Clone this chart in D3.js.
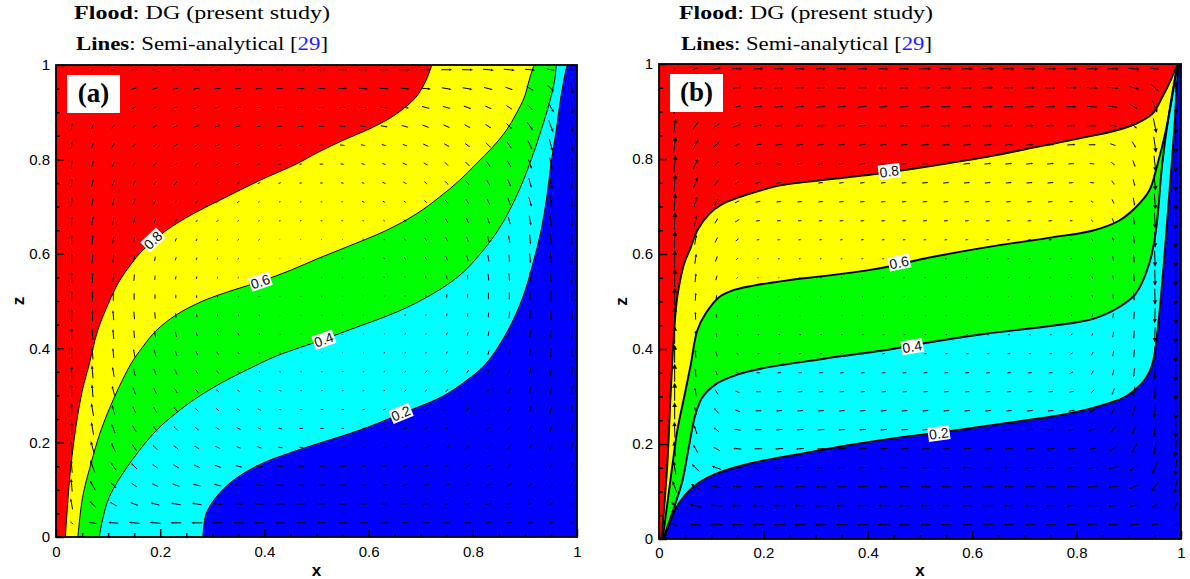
<!DOCTYPE html>
<html>
<head>
<meta charset="utf-8">
<script src="https://cdn.jsdelivr.net/npm/d3@7"></script>
<style>
  body { margin: 0; background: #fff; }
  text { font-family: "Liberation Sans", Arial, sans-serif; }
</style>
</head>
<body>
<svg id="chart" width="1190" height="579"></svg>
<script>
// ---- data ----
var tickVals = [0, 0.2, 0.4, 0.6, 0.8, 1];
var tickLabels = ["0", "0.2", "0.4", "0.6", "0.8", "1"];
var minorVals = [0.05,0.1,0.15,0.25,0.3,0.35,0.45,0.5,0.55,0.65,0.7,0.75,0.85,0.9,0.95];

var levels = [0.2, 0.4, 0.6, 0.8];
var levelNames = ["0.2", "0.4", "0.6", "0.8"];

// vector grid (x left->right, z top->bottom)
var gridX = [0.03,0.07,0.11,0.15,0.19,0.23,0.27,0.31,0.35,0.39,0.43,0.47,0.51,0.55,0.59,0.63,0.67,0.71,0.75,0.79,0.83,0.87,0.91,0.95,0.99];
var gridZ = [0.99,0.95,0.91,0.87,0.83,0.79,0.75,0.71,0.67,0.63,0.59,0.55,0.51,0.47,0.43,0.39,0.35,0.31,0.27,0.23,0.19,0.15,0.11,0.07,0.03];

// panel (a) contours [x, z]
var contourA02 = [[0.282,0],[0.288,0.049],[0.307,0.084],[0.339,0.119],[0.390,0.153],[0.448,0.178],[0.503,0.198],[0.582,0.226],[0.662,0.261],[0.742,0.298],[0.787,0.331],[0.825,0.367],[0.867,0.437],[0.896,0.508],[0.915,0.578],[0.931,0.649],[0.942,0.720],[0.950,0.790],[0.960,0.861],[0.969,0.932],[0.980,0.995],[0.982,1]];
var contourA04 = [[0.083,0],[0.088,0.03],[0.102,0.084],[0.141,0.155],[0.192,0.225],[0.230,0.262],[0.269,0.294],[0.320,0.328],[0.370,0.356],[0.422,0.383],[0.499,0.413],[0.576,0.444],[0.659,0.479],[0.723,0.515],[0.770,0.550],[0.797,0.578],[0.848,0.649],[0.883,0.720],[0.909,0.790],[0.931,0.861],[0.950,0.932],[0.958,0.975],[0.960,1]];
var contourA06 = [[0.042,0],[0.051,0.084],[0.067,0.155],[0.086,0.225],[0.112,0.296],[0.144,0.367],[0.166,0.402],[0.192,0.437],[0.230,0.470],[0.282,0.500],[0.340,0.523],[0.392,0.541],[0.450,0.565],[0.503,0.590],[0.557,0.614],[0.633,0.649],[0.691,0.684],[0.736,0.720],[0.774,0.755],[0.806,0.790],[0.838,0.826],[0.864,0.861],[0.883,0.896],[0.899,0.932],[0.908,0.967],[0.916,0.995],[0.918,1]];
var contourA08 = [[0.018,0],[0.029,0.155],[0.048,0.297],[0.064,0.367],[0.080,0.437],[0.106,0.508],[0.122,0.543],[0.144,0.578],[0.166,0.607],[0.211,0.649],[0.262,0.684],[0.326,0.720],[0.390,0.755],[0.461,0.790],[0.503,0.815],[0.550,0.840],[0.608,0.868],[0.653,0.896],[0.691,0.932],[0.710,0.967],[0.720,0.995],[0.722,1]];
var labelPosA = [[0.662,0.262],[0.514,0.418],[0.392,0.541],[0.186,0.629]];

// panel (b) contours [x, z]
var contourB02 = [[0.010,0],[0.034,0.068],[0.066,0.110],[0.104,0.135],[0.174,0.159],[0.270,0.179],[0.366,0.198],[0.462,0.214],[0.536,0.224],[0.658,0.243],[0.753,0.258],[0.817,0.272],[0.862,0.286],[0.894,0.300],[0.929,0.333],[0.945,0.368],[0.955,0.438],[0.967,0.579],[0.977,0.719],[0.987,0.860],[0.995,0.993],[0.997,1]];
var contourB04 = [[0.008,0],[0.029,0.067],[0.045,0.123],[0.057,0.193],[0.070,0.263],[0.083,0.298],[0.109,0.326],[0.150,0.346],[0.192,0.358],[0.319,0.380],[0.447,0.400],[0.502,0.411],[0.626,0.432],[0.753,0.449],[0.830,0.463],[0.881,0.488],[0.913,0.516],[0.939,0.579],[0.952,0.649],[0.964,0.789],[0.977,0.895],[0.993,0.993],[0.996,1]];
var contourB06 = [[0.007,0],[0.026,0.158],[0.035,0.228],[0.048,0.298],[0.061,0.368],[0.073,0.438],[0.089,0.474],[0.115,0.509],[0.140,0.523],[0.179,0.533],[0.243,0.544],[0.319,0.554],[0.396,0.565],[0.460,0.578],[0.502,0.589],[0.626,0.614],[0.753,0.635],[0.830,0.649],[0.881,0.670],[0.913,0.698],[0.939,0.733],[0.955,0.789],[0.971,0.860],[0.983,0.930],[0.993,0.993],[0.996,1]];
var contourB08 = [[0.005,0],[0.016,0.158],[0.022,0.298],[0.029,0.438],[0.035,0.509],[0.048,0.579],[0.061,0.614],[0.073,0.649],[0.096,0.684],[0.121,0.705],[0.153,0.719],[0.192,0.733],[0.230,0.744],[0.300,0.754],[0.358,0.761],[0.441,0.772],[0.502,0.782],[0.626,0.804],[0.722,0.825],[0.817,0.846],[0.875,0.860],[0.913,0.874],[0.945,0.895],[0.964,0.930],[0.980,0.965],[0.991,0.993],[0.995,1]];
var labelPosB = [[0.536,0.222],[0.485,0.405],[0.460,0.582],[0.441,0.774]];

// velocity direction (deg, 0 = +x, 90 = +z) and magnitude, panel (a)
var dirA = [
  [20,10,5,5,5,0,0,0,0,0,0,0,0,0,0,0,0,0,0,0,-5,-5,-5,-10,-45],
  [60,35,25,15,15,10,10,5,5,5,0,0,0,0,-5,-5,-5,-5,-10,-10,-15,-20,-30,-45,-80],
  [70,50,40,30,25,20,15,10,10,5,5,0,0,0,-5,-5,-10,-15,-15,-20,-25,-35,-45,-60,-85],
  [80,65,50,40,30,25,20,15,10,10,5,0,0,-5,-5,-10,-15,-20,-25,-30,-35,-45,-55,-70,-85],
  [80,70,60,50,40,35,30,20,15,10,10,5,0,-5,-10,-15,-20,-25,-30,-35,-45,-55,-65,-75,-85],
  [85,75,65,55,50,40,35,30,20,15,10,5,0,-5,-15,-20,-25,-30,-40,-45,-55,-60,-70,-80,-90],
  [85,75,70,65,55,50,40,35,25,20,15,5,0,-10,-15,-25,-30,-40,-45,-50,-60,-65,-75,-80,-90],
  [85,80,75,70,60,55,50,40,35,25,15,5,0,-10,-20,-30,-35,-45,-50,-60,-65,-70,-75,-85,-90],
  [85,80,80,75,70,60,55,50,40,30,20,10,0,-15,-25,-35,-45,-55,-60,-65,-70,-75,-80,-85,-90],
  [90,85,80,80,75,70,65,55,50,40,25,10,-5,-20,-35,-45,-55,-60,-65,-70,-75,-80,-85,-85,-90],
  [90,85,85,80,80,75,70,65,60,50,40,20,-5,-30,-45,-55,-65,-70,-75,-75,-80,-85,-85,-85,-90],
  [90,90,85,85,85,80,80,75,75,65,55,30,-10,-45,-60,-70,-75,-80,-80,-85,-85,-85,-85,-90,-90],
  [90,90,90,90,90,90,90,90,85,85,80,70,-45,-80,-85,-85,-90,-90,-90,-90,-90,-90,-90,-90,-90],
  [90,90,95,95,95,95,100,100,105,110,120,135,170,210,235,245,255,255,260,260,265,265,265,270,270],
  [90,95,95,95,100,105,105,110,115,125,135,150,175,200,220,230,240,245,250,255,260,260,265,265,270],
  [90,95,95,100,105,110,115,120,125,135,145,160,175,190,205,220,230,235,245,250,255,260,260,265,270],
  [90,95,100,105,110,115,120,125,135,145,155,165,180,190,200,210,220,230,235,240,250,255,260,260,265],
  [90,95,105,110,115,120,130,135,145,150,160,170,180,185,195,205,215,220,230,235,240,250,255,260,265],
  [90,100,105,115,120,130,135,140,150,155,165,170,180,185,195,200,205,215,220,230,235,245,250,255,265],
  [90,100,110,120,125,135,140,150,155,160,165,175,180,185,190,195,200,210,215,220,230,235,245,255,265],
  [95,105,115,125,135,145,150,155,160,165,170,175,180,185,190,190,195,200,210,215,220,230,240,250,260],
  [95,110,125,135,145,150,155,160,165,170,175,175,180,180,185,190,190,195,200,205,210,220,230,245,260],
  [95,120,135,145,155,160,165,165,170,175,175,180,180,180,185,185,190,190,195,200,205,210,220,230,250],
  [100,135,150,160,165,170,170,175,175,175,175,180,180,180,180,185,185,185,190,190,195,195,205,215,240],
  [135,170,175,175,175,180,180,180,180,180,180,180,180,180,180,180,180,180,180,180,185,185,185,190,200]
];
var speedA = [
  [2,4,5,6,6,7,7,7,7,8,8,9,9,10,10,10,11,11,11,11,11,11,10,8,4],
  [3,4,5,6,6,6,6,7,7,7,7,8,8,9,9,9,9,10,10,10,9,8,8,9,11],
  [5,5,5,5,5,5,6,6,6,6,6,7,7,7,8,8,8,8,8,8,7,7,8,11,13],
  [7,6,5,5,5,5,5,5,5,5,5,6,6,6,6,7,7,7,7,7,7,8,10,13,13],
  [8,7,6,5,5,5,5,5,4,4,4,4,5,5,5,5,5,6,6,6,7,8,10,13,13],
  [9,8,6,5,5,5,4,4,4,3,3,3,4,4,4,4,5,5,5,6,7,8,10,13,13],
  [9,8,7,6,5,5,4,4,3,3,3,3,3,3,3,4,4,4,5,6,7,8,10,13,13],
  [10,9,7,6,5,4,4,3,3,2,2,2,2,2,3,3,3,4,5,6,7,8,10,13,13],
  [10,9,8,6,5,4,3,3,2,2,2,2,2,2,2,2,3,4,5,6,7,8,10,13,13],
  [11,10,8,6,5,4,3,2,2,2,1,1,1,1,2,2,3,4,5,6,7,8,10,13,13],
  [11,10,8,7,5,4,3,2,2,1,1,1,1,1,1,2,3,3,4,6,7,8,10,12,13],
  [12,11,9,7,5,4,3,2,2,1,1,1,1,1,1,2,2,3,4,5,7,8,10,12,13],
  [12,11,9,7,5,4,3,2,1,1,1,1,1,1,1,1,2,3,4,5,7,8,10,12,12],
  [13,12,10,8,7,5,4,3,2,2,1,1,1,1,1,1,2,2,3,4,5,7,9,11,12],
  [13,12,10,8,7,6,4,3,3,2,1,1,1,1,1,1,2,2,3,4,5,7,8,10,11],
  [13,13,10,8,7,6,5,4,3,2,2,1,1,1,1,2,2,2,3,4,5,6,8,10,11],
  [13,13,10,8,7,6,5,4,3,2,2,2,2,2,2,2,2,3,3,4,5,6,8,9,10],
  [13,13,10,8,7,6,5,4,3,3,3,2,2,2,2,2,3,3,4,4,5,6,7,9,10],
  [13,13,10,8,7,6,5,4,4,4,3,3,3,3,3,3,3,4,4,5,5,6,7,8,9],
  [13,13,10,8,7,6,5,5,5,4,4,4,4,3,3,3,4,4,4,5,5,5,6,8,9],
  [13,13,10,8,7,6,6,6,5,5,5,5,5,4,4,4,4,5,5,5,5,5,6,7,8],
  [13,13,10,8,7,7,7,7,7,7,6,6,6,6,5,5,5,5,5,5,5,5,5,6,7],
  [13,11,8,7,7,8,8,8,8,8,8,7,7,7,6,6,6,6,6,5,5,5,5,5,5],
  [11,9,8,8,9,10,10,10,9,9,9,9,8,8,7,7,7,7,6,6,6,6,5,4,3],
  [4,8,10,11,11,11,11,11,11,10,10,10,9,9,8,8,7,7,7,7,6,6,5,4,2]
];

// panel (b)
var dirB = [
  [45,20,10,0,0,0,0,0,0,0,0,0,0,0,0,0,0,0,0,0,0,0,-5,-10,-45],
  [80,40,20,10,3,3,3,3,3,3,3,3,0,0,0,0,0,0,0,0,-3,-5,-15,-45,-85],
  [85,50,25,12,5,5,5,5,5,5,5,5,2,2,2,2,2,2,2,0,-3,-10,-30,-70,-88],
  [82,55,35,20,10,5,5,5,5,5,5,5,3,3,3,3,3,3,3,3,0,-10,-45,-78,-90],
  [84,62,42,25,12,6,6,6,6,6,6,6,5,5,5,5,5,5,5,3,0,-20,-60,-82,-90],
  [85,66,50,30,15,8,8,8,8,8,8,8,6,6,6,6,6,6,6,5,-5,-40,-70,-84,-90],
  [86,70,55,35,15,8,8,8,8,8,8,8,6,6,6,6,6,6,6,5,-10,-55,-75,-85,-90],
  [87,75,60,25,10,6,6,6,6,6,6,6,5,5,5,5,5,5,5,0,-30,-65,-80,-86,-90],
  [88,78,60,30,8,5,5,5,5,5,5,5,5,5,5,5,5,5,5,0,-45,-70,-82,-87,-90],
  [88,80,65,40,10,5,5,5,5,5,5,5,5,5,5,5,5,5,5,-10,-60,-75,-84,-88,-90],
  [89,82,70,45,10,5,5,5,5,5,5,5,5,5,5,5,5,5,5,-30,-70,-80,-85,-88,-90],
  [89,84,75,50,5,5,5,5,5,5,5,5,5,5,5,5,5,5,5,-45,-75,-82,-86,-89,-90],
  [90,86,80,60,0,0,0,0,0,0,0,0,0,0,0,0,0,0,0,-60,-78,-84,-87,-89,-90],
  [90,92,98,120,180,180,180,180,180,180,180,180,180,180,180,180,180,180,180,235,255,262,266,268,270],
  [90,93,100,130,180,185,185,185,185,185,185,185,185,185,185,185,185,185,185,240,252,260,265,268,270],
  [90,94,105,140,185,185,185,185,185,185,185,185,185,185,185,185,185,185,185,215,245,258,264,268,270],
  [90,95,110,150,180,185,185,185,185,185,185,185,185,185,185,185,185,185,185,205,240,255,262,267,270],
  [90,100,120,155,180,185,185,185,185,185,185,185,185,185,185,185,185,185,185,190,230,250,260,266,270],
  [90,105,130,160,180,185,185,185,185,185,185,185,185,185,185,185,185,185,185,190,215,245,255,265,270],
  [92,110,140,170,180,185,185,185,185,185,185,185,185,185,185,185,185,185,185,188,200,230,248,262,268],
  [95,120,150,175,180,183,183,183,183,183,183,183,183,183,183,183,183,183,183,185,190,215,240,258,266],
  [100,135,160,180,180,182,182,182,182,182,182,182,182,182,182,182,182,182,182,182,185,195,220,250,262],
  [110,150,170,180,180,180,180,180,180,180,180,180,180,180,180,180,180,180,180,180,183,185,200,235,258],
  [130,165,175,180,180,180,180,180,180,180,180,180,180,180,180,180,180,180,180,180,180,185,190,210,245],
  [150,175,180,180,180,180,180,180,180,180,180,180,180,180,180,180,180,180,180,180,180,180,185,190,225]
];
var speedB = [
  [2,6,9,10,10,10,10,10,10,10,10,10,12,12,12,12,12,12,12,12,12,12,12,10,3],
  [10,8,8,9,9,9,9,9,9,9,9,9,11,11,11,11,11,11,11,11,11,11,11,10,12],
  [14,9,8,8,9,9,9,9,9,9,9,9,10,10,10,10,10,10,10,10,10,10,9,13,16],
  [15,10,8,8,8,8,8,8,8,8,8,8,9,9,9,9,9,9,9,9,9,8,8,15,17],
  [17,12,8,7,7,7,7,7,7,7,7,7,8,8,8,8,8,8,8,8,7,6,7,16,18],
  [18,12,8,6,6,6,6,6,6,6,6,6,7,7,7,7,7,7,7,6,5,5,7,16,18],
  [18,12,7,6,5,5,5,5,5,5,5,5,6,6,6,6,6,6,6,5,4,5,7,16,18],
  [18,11,7,5,5,5,5,5,5,5,5,5,5,5,5,5,5,5,5,4,3,5,8,16,18],
  [18,11,6,5,4,4,4,4,4,4,4,4,4,4,4,4,4,4,4,3,3,5,8,16,18],
  [18,10,6,4,3,3,3,3,3,3,3,3,3,3,3,3,3,3,3,2,3,5,8,16,18],
  [18,10,6,3,2,2,2,2,2,2,2,2,2,2,2,2,2,2,2,2,3,5,8,16,18],
  [18,9,5,2,1.5,1.5,1.5,1.5,1.5,1.5,1.5,1.5,1.5,1.5,1.5,1.5,1.5,1.5,1.5,2,3,5,8,16,18],
  [18,8,4,2,1,1,1,1,1,1,1,1,1,1,1,1,1,1,1,2,3,5,8,16,18],
  [18,8,4,2,1,1,1,1,1,1,1,1,1,1,1,1,1,1,1,2,3,5,8,15,18],
  [18,8,4,2,2,2,2,2,2,2,2,2,2,2,2,2,2,2,2,3,3,6,8,15,18],
  [18,8,5,3,3,3,3,3,3,3,3,3,3,3,3,3,3,3,3,3,4,6,8,15,18],
  [18,8,5,4,4,4,4,4,4,4,4,4,4,4,4,4,4,4,4,4,5,6,9,15,18],
  [18,8,6,5,5,5,5,5,5,5,5,5,5,5,5,5,5,5,5,5,5,7,10,15,18],
  [17,8,7,6,6,6,6,6,6,6,6,6,6,6,6,6,6,6,6,6,7,8,11,15,18],
  [16,9,7,7,7,7,7,7,7,7,7,7,7,7,7,7,7,7,7,7,8,8,11,15,18],
  [15,9,8,8,8,8,8,8,8,8,8,8,8,8,8,8,8,8,8,8,8,9,11,14,17],
  [14,10,10,9,9,9,9,9,9,9,9,9,9,9,9,9,9,9,9,9,9,10,11,13,16],
  [12,11,11,10,10,10,10,10,10,10,10,10,10,10,10,10,10,10,10,10,10,10,11,12,14],
  [10,12,12,12,12,12,12,12,12,12,12,12,10,10,10,10,10,10,10,10,10,10,9,8,8],
  [6,12,12,12,12,12,12,12,12,12,12,12,10,10,10,10,10,10,10,10,10,10,9,7,3]
];

// ---- drawing ----
var svg = d3.select("#chart");
var bandColors = ["#0000ff", "#00ffff", "#00ff00", "#ffff00", "#ff0000"];

var panels = [
  { tag: "(a)", x0: 56, x1: 577, y0: 537, y1: 65, contours: [contourA02, contourA04, contourA06, contourA08],
    labelPos: labelPosA, dir: dirA, speed: speedA, lineW: 1, headW: 0.11, xPad: 9,
    title1: [74, 330], title2: [76, 328] },
  { tag: "(b)", x0: 659, x1: 1181, y0: 539, y1: 64, contours: [contourB02, contourB04, contourB06, contourB08],
    labelPos: labelPosB, dir: dirB, speed: speedB, lineW: 1.9, headW: 0.14, xPad: 8,
    title1: [679, 933], title2: [681, 932] }
];

panels.forEach(function(p, pi) {
  var x = d3.scaleLinear().domain([0, 1]).range([p.x0, p.x1]);
  var y = d3.scaleLinear().domain([0, 1]).range([p.y0, p.y1]);
  var mag = d3.scaleLinear().domain([0, 10]).range([0, 10]);
  var line = d3.line().x(function(d) { return x(d[0]); }).y(function(d) { return y(d[1]); })
      .curve(d3.curveCatmullRom.alpha(0.5));

  svg.append("clipPath").attr("id", "clip" + pi)
    .append("rect").attr("x", p.x0).attr("y", p.y1).attr("width", p.x1 - p.x0).attr("height", p.y0 - p.y1);

  var g = svg.append("g").attr("clip-path", "url(#clip" + pi + ")");

  // flood bands
  g.append("rect").attr("x", p.x0).attr("y", p.y1).attr("width", p.x1 - p.x0).attr("height", p.y0 - p.y1)
    .attr("fill", bandColors[0]);
  p.contours.forEach(function(c, ci) {
    g.append("path")
      .attr("d", line(c) + "L" + x(0) + "," + y(1) + "L" + x(0) + "," + y(0) + "Z")
      .attr("fill", bandColors[ci + 1]);
  });

  // vectors
  var vg = g.append("g");
  p.dir.forEach(function(row, i) {
    row.forEach(function(a, j) {
      var L = mag(p.speed[i][j]);
      var r = a * Math.PI / 180;
      var ux = Math.cos(r), uy = -Math.sin(r);
      var cx = x(gridX[j]), cy = y(gridZ[i]);
      var tx = cx + ux * L / 2, ty = cy + uy * L / 2;
      var sx = cx - ux * L / 2, sy = cy - uy * L / 2;
      var hl = Math.max(1, 0.28 * L), hw = Math.max(0.5, p.headW * L);
      var bx = tx - ux * hl, by = ty - uy * hl;
      vg.append("line").attr("x1", sx).attr("y1", sy).attr("x2", bx).attr("y2", by)
        .attr("stroke", "#000").attr("stroke-width", 1);
      vg.append("path")
        .attr("d", "M" + tx + "," + ty + "L" + (bx - uy * hw) + "," + (by + ux * hw) +
                   "L" + (bx + uy * hw) + "," + (by - ux * hw) + "Z")
        .attr("fill", "#000");
    });
  });

  // contour lines
  p.contours.forEach(function(c) {
    g.append("path").attr("d", line(c)).attr("fill", "none")
      .attr("stroke", "#000").attr("stroke-width", p.lineW);
  });

  // contour labels
  p.labelPos.forEach(function(lp, li) {
    var c = p.contours[li];
    var px = x(lp[0]), py = y(lp[1]);
    var best = 1, bd = Infinity;
    for (var k = 1; k < c.length - 1; k++) {
      var d = Math.hypot(x(c[k][0]) - px, y(c[k][1]) - py);
      if (d < bd) { bd = d; best = k; }
    }
    var ang = Math.atan2(y(c[best + 1][1]) - y(c[best - 1][1]), x(c[best + 1][0]) - x(c[best - 1][0])) * 180 / Math.PI;
    if (ang > 90) ang -= 180;
    if (ang < -90) ang += 180;
    var lg = svg.append("g").attr("transform", "translate(" + px + "," + py + ") rotate(" + ang + ")");
    var t = lg.append("text").attr("text-anchor", "middle").attr("dy", "0.36em")
      .attr("font-size", 14).attr("fill", "#111").text(levelNames[li]);
    var bb = t.node().getBBox();
    lg.insert("rect", "text").attr("x", bb.x - 1).attr("y", bb.y + 1)
      .attr("width", bb.width + 2).attr("height", bb.height - 2).attr("fill", "#fff");
  });

  // panel tag
  svg.append("rect").attr("x", p.x0 + 11).attr("y", p.y1 + 10).attr("width", 53).attr("height", 38).attr("fill", "#fff");
  svg.append("text").attr("x", p.x0 + 37.5).attr("y", p.y1 + 37).attr("text-anchor", "middle")
    .style("font-family", "'Liberation Serif', serif").attr("font-weight", "bold").attr("font-size", 27)
    .text(p.tag);

  // axes (ticks point inward)
  svg.append("g").attr("transform", "translate(0," + p.y0 + ")")
    .call(d3.axisBottom(x).tickValues(tickVals).tickSize(-8).tickPadding(p.xPad)
      .tickFormat(function(d, i) { return tickLabels[i]; }));
  svg.append("g").attr("transform", "translate(0," + p.y0 + ")")
    .call(d3.axisBottom(x).tickValues(minorVals).tickSize(-4).tickFormat(""));
  svg.append("g").attr("transform", "translate(" + p.x0 + ",0)")
    .call(d3.axisLeft(y).tickValues(tickVals).tickSize(-8).tickPadding(6)
      .tickFormat(function(d, i) { return tickLabels[i]; }));
  svg.append("g").attr("transform", "translate(" + p.x0 + ",0)")
    .call(d3.axisLeft(y).tickValues(minorVals).tickSize(-4).tickFormat(""));
  svg.selectAll(".domain").remove();
  svg.selectAll(".tick line").attr("stroke", "#000").attr("stroke-width", 1.5);
  svg.selectAll(".tick text").attr("font-size", 15).attr("fill", "#000")
    .style("font-family", "'Liberation Sans', Arial, sans-serif");

  svg.append("rect").attr("x", p.x0).attr("y", p.y1).attr("width", p.x1 - p.x0).attr("height", p.y0 - p.y1)
    .attr("fill", "none").attr("stroke", "#000").attr("stroke-width", 1.8);

  // axis titles
  svg.append("text").attr("x", (p.x0 + p.x1) / 2).attr("y", 576).attr("text-anchor", "middle")
    .attr("font-weight", "bold").attr("font-size", 17).text("x");
  svg.append("text").attr("transform", "translate(" + (p.x0 - 38) + "," + ((p.y0 + p.y1) / 2) + ") rotate(-90)")
    .attr("text-anchor", "middle").attr("dy", "0.35em")
    .attr("font-weight", "bold").attr("font-size", 17).text("z");

  // titles
  var t1 = svg.append("text").attr("x", p.title1[0]).attr("y", 19)
    .style("font-family", "'Liberation Serif', serif").attr("font-size", 18)
    .attr("textLength", p.title1[1] - p.title1[0]).attr("lengthAdjust", "spacingAndGlyphs");
  t1.append("tspan").attr("font-weight", "bold").text("Flood");
  t1.append("tspan").text(": DG (present study)");
  var t2 = svg.append("text").attr("x", p.title2[0]).attr("y", 50)
    .style("font-family", "'Liberation Serif', serif").attr("font-size", 18)
    .attr("textLength", p.title2[1] - p.title2[0]).attr("lengthAdjust", "spacingAndGlyphs");
  t2.append("tspan").attr("font-weight", "bold").text("Lines");
  t2.append("tspan").text(": Semi-analytical [");
  t2.append("tspan").attr("fill", "#1f1fff").text("29");
  t2.append("tspan").text("]");
});
</script>
</body>
</html>
